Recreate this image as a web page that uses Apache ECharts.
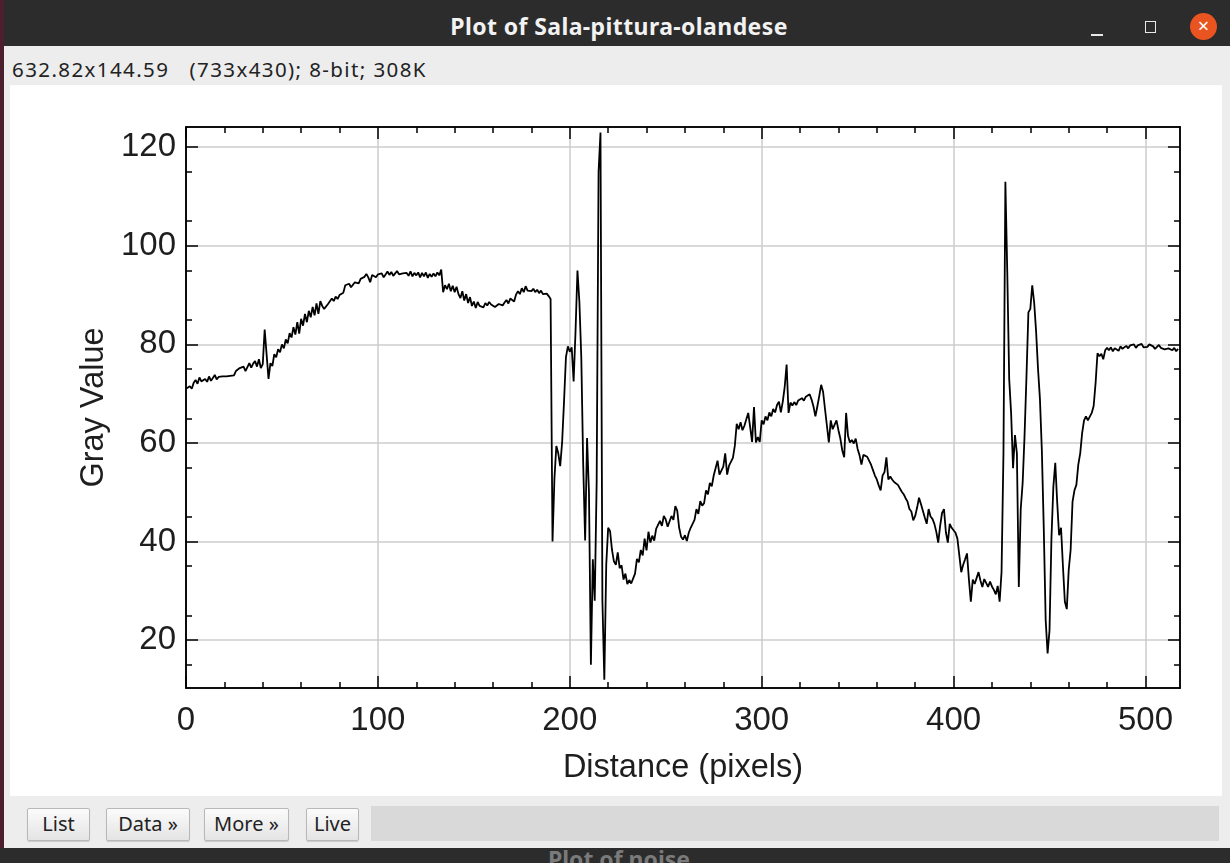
<!DOCTYPE html>
<html>
<head>
<meta charset="utf-8">
<script src="https://cdn.jsdelivr.net/npm/echarts@6/dist/echarts.min.js"></script>
<style>
html,body{margin:0;padding:0;width:1230px;height:863px;overflow:hidden;background:#ededed;font-family:"Noto Sans","DejaVu Sans",sans-serif;}
.abs{position:absolute;}
#leftstrip{left:0;top:0;width:4px;height:863px;background:#4a1f2e;}
#titlebar{left:0;top:0;width:1230px;height:46px;background:#2c2c2c;}
#title{left:0;top:0;width:1238px;height:46px;line-height:52px;text-align:center;color:#f2f2f2;font-weight:bold;font-size:23px;letter-spacing:0.4px;}
#minbtn{left:1091px;top:34px;width:12px;height:2px;background:#e8e8e8;}
#maxbtn{left:1145px;top:21px;width:9px;height:10px;border:1.5px solid #e8e8e8;}
#closebtn{left:1190px;top:13px;width:27px;height:27px;border-radius:50%;background:#e95420;color:#fff;font-size:20px;line-height:26px;text-align:center;}
#info{left:12px;top:55px;font-size:20.5px;letter-spacing:1.4px;color:#222;white-space:pre;}
#canvas{left:10px;top:85px;width:1212px;height:711px;background:#fff;}
.btn{top:808px;height:31px;border:1px solid #b8b8b8;border-radius:2px;background:linear-gradient(#fbfbfb,#e4e4e4);font-size:20px;line-height:30px;text-align:center;color:#222;box-shadow:0 1px 1px rgba(0,0,0,0.15);}
#field{left:371px;top:806px;width:848px;height:35px;background:#d9d9d9;}
#bottomstrip{left:0;top:848px;width:1230px;height:15px;background:#2c2c2c;overflow:hidden;}
#bottomtitle{left:0;top:-5px;width:1238px;text-align:center;color:#7a7a7a;font-weight:bold;font-size:23px;}
#chart{left:0;top:0;width:1230px;height:863px;}
</style>
</head>
<body>
<div class="abs" id="titlebar"></div>
<div class="abs" id="title">Plot of Sala-pittura-olandese</div>
<div class="abs" id="minbtn"></div>
<div class="abs" id="maxbtn"></div>
<div class="abs" id="closebtn">×</div>
<div class="abs" id="leftstrip"></div>
<div class="abs" id="info">632.82x144.59   (733x430); 8-bit; 308K</div>
<div class="abs" id="canvas"></div>
<div class="abs btn" style="left:27px;width:61px;">List</div>
<div class="abs btn" style="left:106px;width:82px;">Data »</div>
<div class="abs btn" style="left:204px;width:83px;">More »</div>
<div class="abs btn" style="left:306px;width:51px;">Live</div>
<div class="abs" id="field"></div>
<div class="abs" id="bottomstrip"><div class="abs" id="bottomtitle">Plot of noise</div></div>
<div class="abs" id="chart"></div>
<script>
// Gray values along the line profile, one per pixel of distance (index = distance)
const gray = [
71,70.6,71.5,71,72.2,72.8,72,73.3,72.5,72.1,
73,72.4,73.5,72.6,73.2,73.8,72.9,73.4,73.2,73.5,
73.5,73.5,73.5,73.6,73.6,73.7,74.6,74.2,75.2,74.8,
75.5,74.6,75.4,76.2,75.3,76.1,76.6,75.5,77,75.2,
76,83,82.6,73,76.2,75.6,78,77.4,79,78.4,
80,79.2,81,80.2,82.3,81.4,83.5,82,84.5,82.2,
85.2,83.8,86.2,84.5,86.8,85.5,87.6,85.9,88.3,86.2,
88.8,87.8,87.2,87.4,88.2,88.5,89.3,88.8,89.7,89.2,
90,89.6,90.5,92,91.8,92.3,91.6,92.1,92.6,92.8,
92.4,93.3,92.9,93.7,94.3,93.6,92.6,94.1,94.2,93.6,
94.2,93.8,94.4,93.6,94.2,94.8,94.1,94.7,93.9,94.4,
94.9,94.2,94.6,94.4,94.3,94.5,93.9,94.8,93.8,94.5,
94,94.6,93.6,94.5,93.8,94.6,93.5,94.3,93.7,94.4,
93.8,94.6,94,95.2,90.6,92,91.2,92.3,90.8,91.9,
90.6,91.7,90.2,89.4,90.8,88.9,90.2,88.4,89.6,87.8,
88.7,87.4,88.6,87.8,88.2,87.5,88.4,87.9,88.6,88.1,
88.4,87.6,87.2,88.2,88.6,87.9,88.5,89,88.3,89.3,
89.6,88.7,90.1,90.8,90.2,91.4,90.6,91.8,90.9,91.2,
90.8,91.3,90.6,91.1,90.4,90.9,90.2,90.6,90.3,89.8,
89.2,40,52.8,59.4,57.9,55.3,60.1,68.4,77.4,79.6,
78.5,79.4,72.5,82.7,95,88.7,77.4,55.6,40.2,61,
50,15,36.4,28,51.9,115,123,28,12,35.3,
42.8,42.1,38.3,36,35.3,37.8,34.6,35.2,32.3,33.5,
31.4,32.2,31.5,31.8,33.5,36.5,35.8,38.3,37.2,40.6,
38.2,42,39.8,41.2,40.2,42.6,42.8,44.2,43.2,45.2,
44.5,43,42.6,45.2,44.4,47.2,46.3,42.8,41,40.4,
41.3,40.1,41.8,42.8,43.6,44.4,46.6,45.6,48.2,47.3,
47.8,50.4,49.6,51.9,51.2,53.4,53.8,56.4,53.6,53.4,
55.2,57.9,53.6,55.4,55.6,57,59.4,63.9,62.8,64.2,
62.6,63.5,64.8,66.1,63.2,60.2,67.3,60.1,61.2,60.2,
64.6,63.8,65.4,64.6,66.2,65.4,66.9,66.2,67.7,68.4,
66.2,68.4,71.4,75.9,66.1,68.2,67.6,68.3,67.7,68.6,
68.4,69.1,68.6,69.4,69.3,69.9,68.8,67.4,65.4,67.4,
69.5,71.8,70.4,66.9,63.5,60.1,64.6,62.8,62.4,64.6,
62.6,60.9,58.5,57.1,66.1,61.4,60.1,60.6,59.9,60.9,
58.8,57.5,55.6,57.6,57.5,57.2,56.9,55.6,54.5,53.4,
52.6,51.4,50.4,53.4,54.1,57.1,52.6,53.2,52.6,52.1,
51.9,51.5,51.2,50.1,49.6,48.8,48.1,46.6,46.1,44.3,
45.2,46.9,48.9,47.6,47.2,44.9,43.6,46.6,45.1,44.6,
43.6,42,39.8,43.2,45.8,46.6,41.9,39.8,43.6,42.8,
42.4,41.8,40.6,37.2,33.8,35.3,36.4,37.6,32.3,27.8,
32.3,31.4,31.6,33.8,32.1,30.8,32.4,32.6,30.8,31.9,
30.9,30.2,29.3,31,27.8,33.8,57.9,113,94.5,72.9,
66,54.9,61.6,57.9,30.8,46.6,51.9,61.6,73.6,86.5,
87.2,92,88.5,82.7,75.1,69,58.6,42.8,24.1,17.3,
22,40.6,51.1,56,48,41.3,42.8,35,27.8,26.3,
34.2,38.3,48.1,50.4,51.5,55.6,57.9,62,64.6,65.4,
64.6,64.2,66.1,67.5,72.1,78.2,77.6,78.1,77,78.8,
79.3,78.8,79.4,78.6,79.2,79.5,78.7,79.6,79.1,79.3,
79.7,79.2,79.8,79.5,80,79.3,79.8,79.6,80.1,79.4,
79.8,79.5,80,79.7,79.6,79.1,79.5,79.9,79.3,79.6,
79,79.4,79.2,79.6,78.8,79.3,78.6,79.1
];
const xMajorTicks = [0,100,200,300,400,500];
const xMinorTicks = [20,40,60,80,120,140,160,180,220,240,260,280,320,340,360,380,420,440,460,480];
const yMajorTicks = [20,40,60,80,100,120];
const yMinorTicks = [15,25,35,45,55,65,75,85,95,105,115];
const xRange = [0,518];
const yRange = [10.3,124.1];
const xTitle = 'Distance (pixels)';
const yTitle = 'Gray Value';

const FONT = '"Liberation Sans", Arial, sans-serif';
const black = '#000';
const gridColor = '#cdcdcd';

function makeAxis(kind, pos, ticks, len, withLabels, withSplit, name) {
  const range = kind === 'x' ? xRange : yRange;
  const a = {
    type: 'value', position: pos, min: range[0], max: range[1],
    axisLine: {show: true, onZero: false, lineStyle: {color: black, width: 1.5}},
    axisTick: {show: true, inside: true, length: len, customValues: ticks, lineStyle: {color: black, width: 1.5}},
    axisLabel: {show: withLabels, customValues: ticks, color: '#1e1e1e', fontSize: 33, fontFamily: FONT,
      margin: kind === 'x' ? 16 : 10},
    splitLine: {show: withSplit, lineStyle: {color: gridColor, width: 1.5}},
    minorTick: {show: false}, minorSplitLine: {show: false}
  };
  if (name) {
    a.name = name; a.nameLocation = 'middle';
    a.nameGap = kind === 'x' ? 64 : 75;
    a.nameTextStyle = {color: '#1e1e1e', fontSize: 32.5, fontFamily: FONT};
  }
  return a;
}

const chart = echarts.init(document.getElementById('chart'), null, {renderer: 'canvas'});
chart.setOption({
  animation: false,
  backgroundColor: 'transparent',
  grid: {left: 186, top: 127, width: 994, height: 561, containLabel: false, outerBoundsMode: 'none'},
  xAxis: [
    makeAxis('x', 'bottom', xMajorTicks, 12, true, true, xTitle),
    makeAxis('x', 'bottom', xMinorTicks, 6, false, false),
    makeAxis('x', 'top', xMajorTicks, 12, false, false),
    makeAxis('x', 'top', xMinorTicks, 6, false, false)
  ],
  yAxis: [
    makeAxis('y', 'left', yMajorTicks, 12, true, true, yTitle),
    makeAxis('y', 'left', yMinorTicks, 6, false, false),
    makeAxis('y', 'right', yMajorTicks, 12, false, false),
    makeAxis('y', 'right', yMinorTicks, 6, false, false)
  ],
  series: [{
    type: 'line', xAxisIndex: 0, yAxisIndex: 0,
    data: gray.map((v, i) => [i, v]),
    showSymbol: false, symbol: 'none', smooth: false, clip: true,
    lineStyle: {color: black, width: 1.8},
    z: 3
  }]
});
</script>
</body>
</html>
